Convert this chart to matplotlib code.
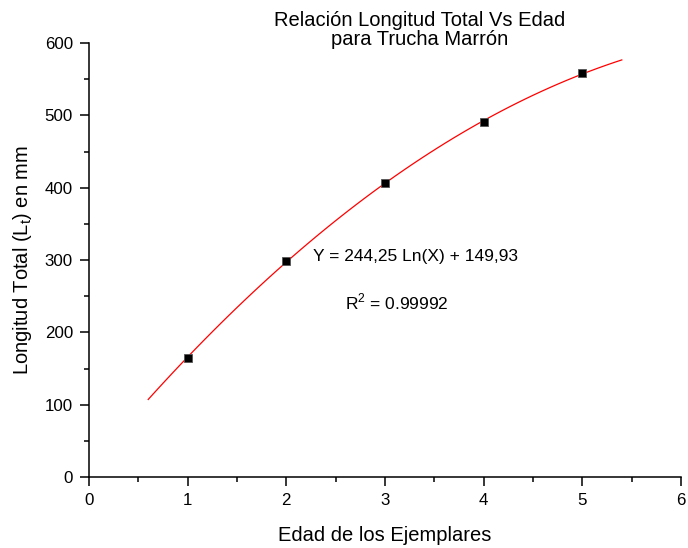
import numpy as np
from matplotlib import pyplot as plt
from matplotlib.ticker import MultipleLocator

plt.rcParams['font.family'] = ['Liberation Sans', 'DejaVu Sans']
plt.rcParams['mathtext.fontset'] = 'custom'
plt.rcParams['mathtext.rm'] = 'Liberation Sans'

# Edad (años) y longitud total media (mm)
edad = [1, 2, 3, 4, 5]
longitud = [165, 299, 406, 491, 558]

# Ajuste polinomial de segundo grado sobre los datos
coef = np.polyfit(edad, longitud, 2)
x_fit = np.linspace(0.6, 5.4, 60)
y_fit = np.polyval(coef, x_fit)

fig = plt.figure(figsize=(6.88, 5.48), dpi=100)
ax = fig.add_axes([89 / 688, 1 - 477 / 548, 592 / 688, 434 / 548])

ax.plot(x_fit, y_fit, color='red', lw=0.9, zorder=2)
ax.plot(edad, longitud, ls='none', marker='s', ms=6, mfc='black',
        mec='#555555', mew=0.6, zorder=3)

ax.set_xlim(0, 6)
ax.set_ylim(0, 600)
ax.xaxis.set_major_locator(MultipleLocator(1))
ax.xaxis.set_minor_locator(MultipleLocator(0.5))
ax.yaxis.set_major_locator(MultipleLocator(100))
ax.yaxis.set_minor_locator(MultipleLocator(50))

for side in ('top', 'right'):
    ax.spines[side].set_visible(False)
for side in ('left', 'bottom'):
    ax.spines[side].set_linewidth(1.1)
ax.tick_params(which='major', direction='out', length=6.5, width=1.1,
               labelsize=12.2, pad=5)
ax.tick_params(which='minor', direction='out', length=3.5, width=1.1)

ax.set_xlabel('Edad de los Ejemplares', fontsize=14.5, labelpad=13)
ax.set_ylabel(r'Longitud Total (L$_\mathregular{t}$) en mm', fontsize=14.5,
              labelpad=7.5)

fig.text(420 / 688, 1 - 30 / 548, 'Relación Longitud Total Vs Edad\npara Trucha Marrón',
         ha='center', va='center', fontsize=14.5, linespacing=1.0)

ax.text(2.27, 305, 'Y = 244,25 Ln(X) + 149,93', fontsize=12.5, va='center', ha='left')
ax.text(2.59, 242, r'R$^\mathregular{2}$ = 0.99992', fontsize=12.5, va='center', ha='left')

fig.savefig('out.png', dpi=100)
